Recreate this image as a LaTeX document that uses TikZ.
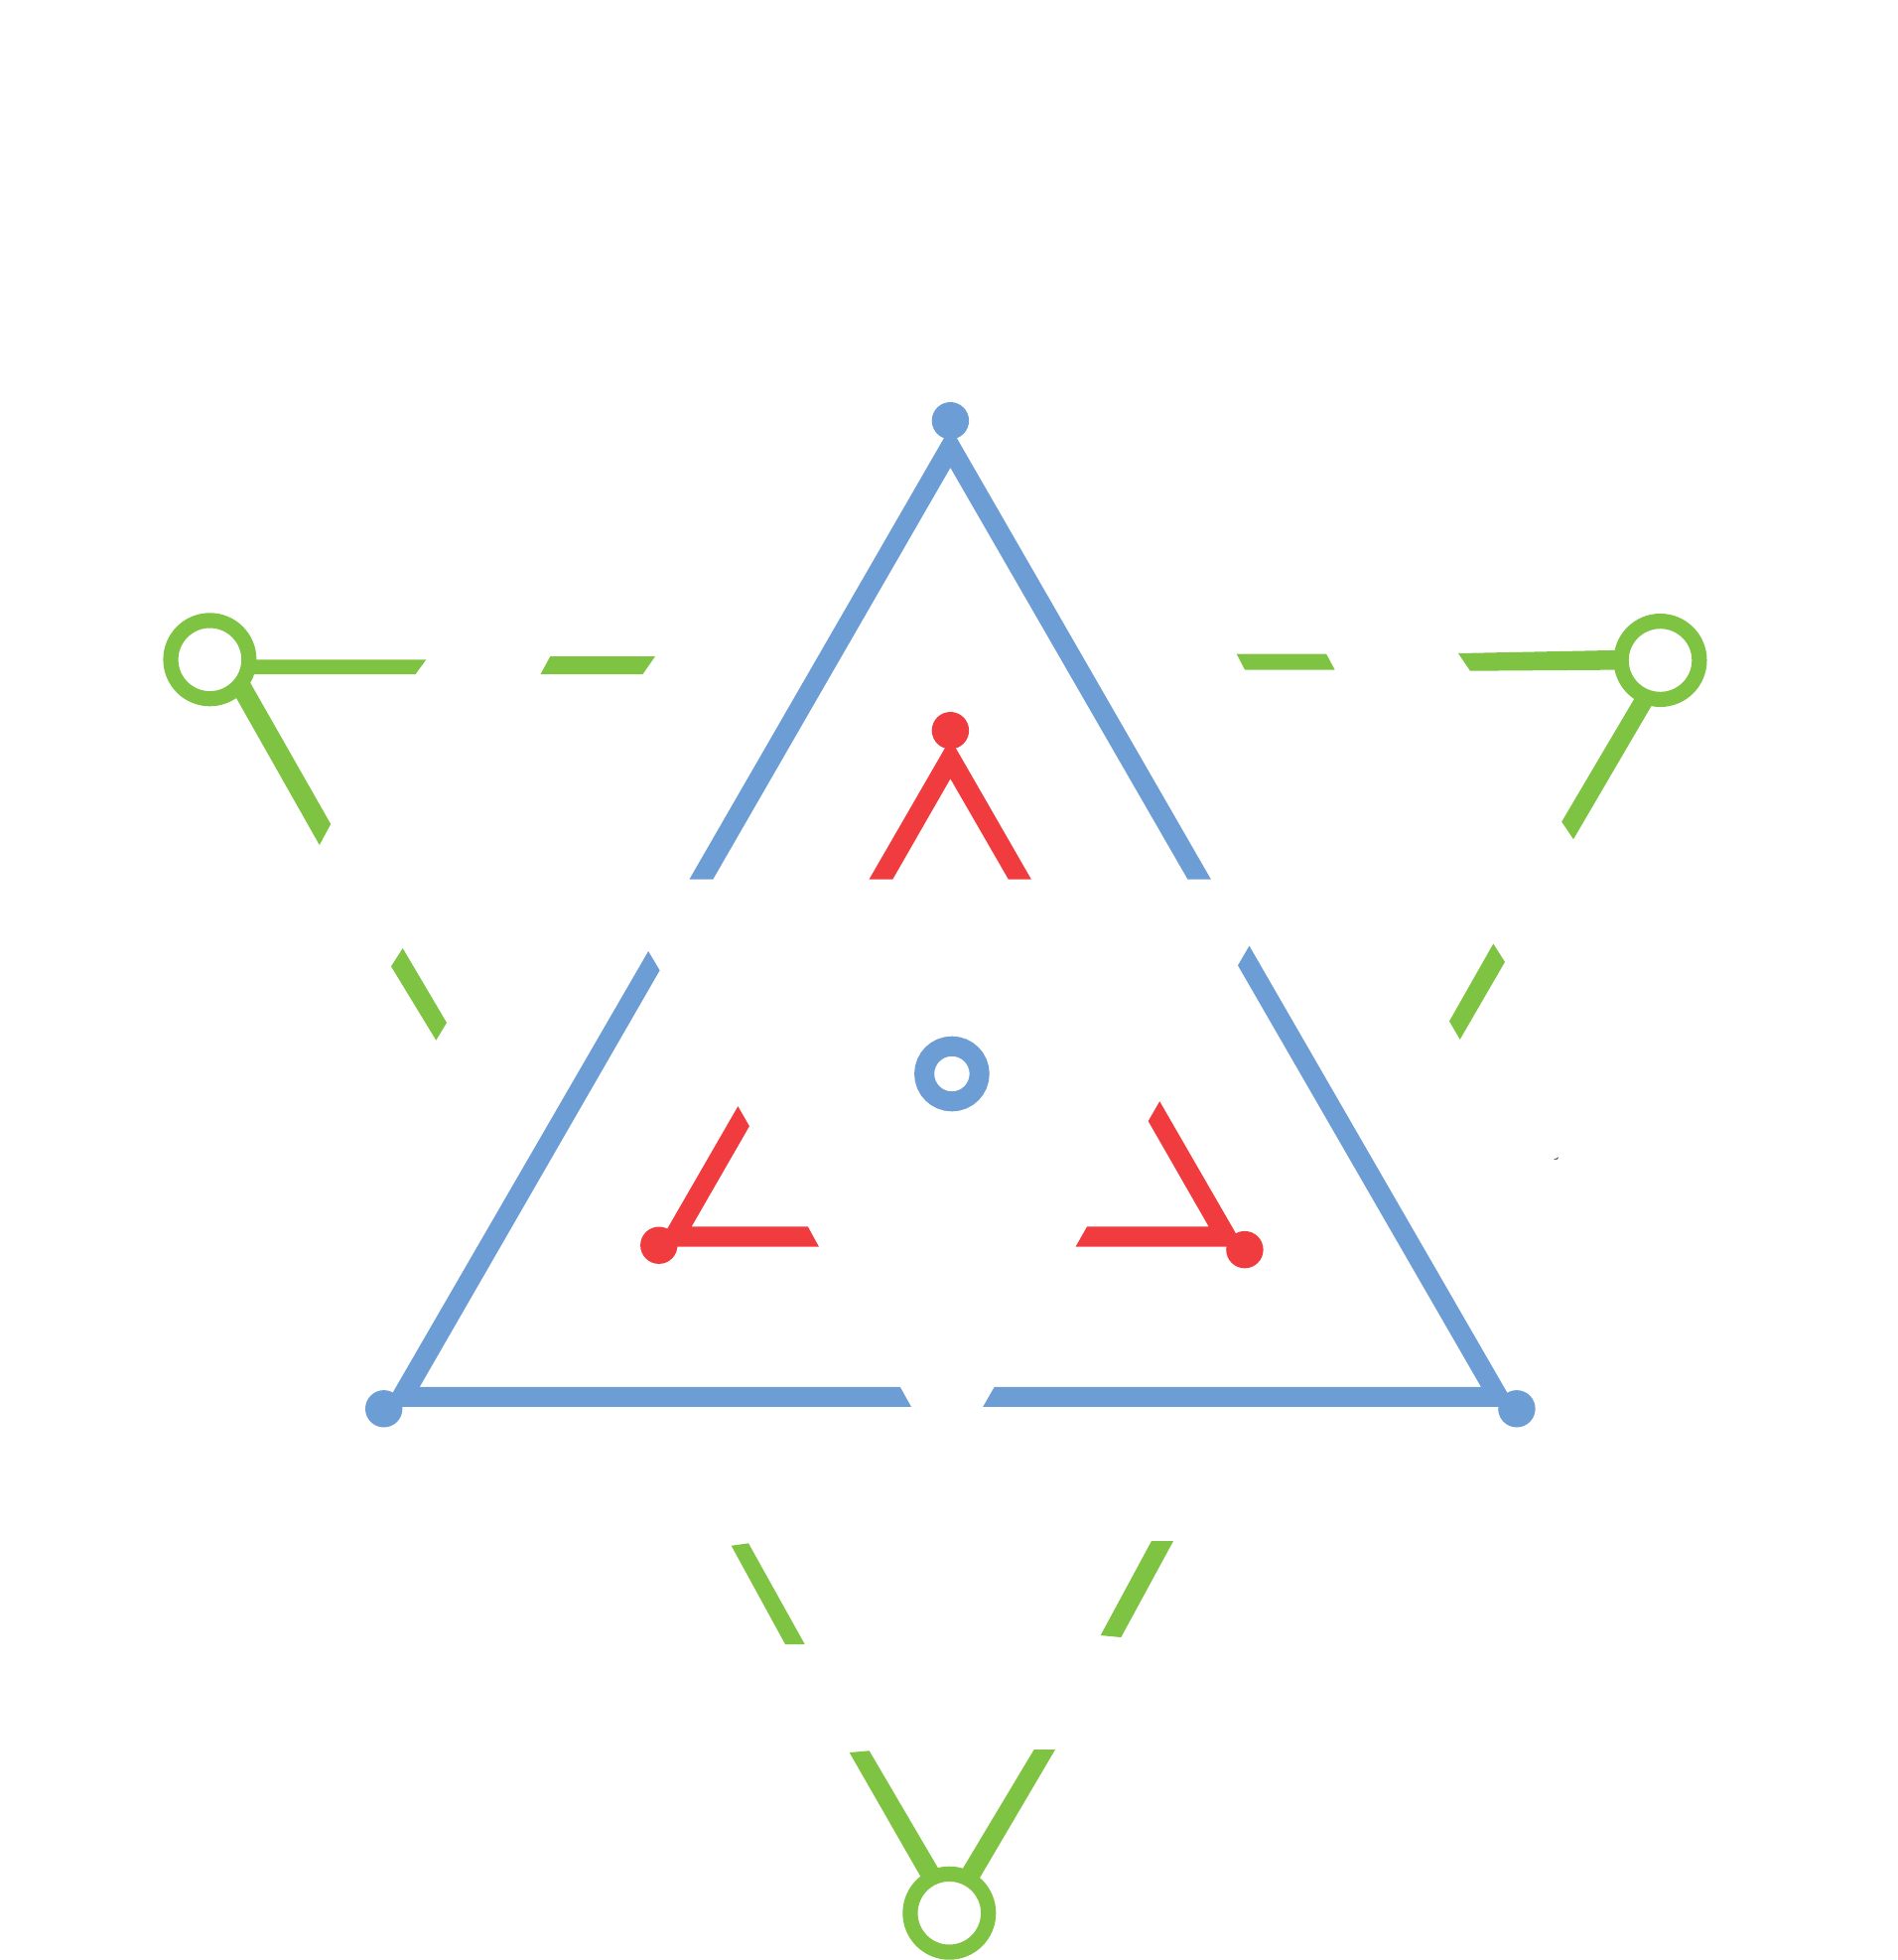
\documentclass[tikz,border=0pt]{standalone}
\definecolor{triblue}{RGB}{108,157,212}
\definecolor{trired}{RGB}{240,59,63}
\definecolor{trigreen}{RGB}{127,195,67}
\tikzset{
    dotblue/.style={fill=triblue},
    dotred/.style={fill=trired},
    bargreen/.style={fill=trigreen},
    ringgreen/.style={draw=trigreen,fill=white,line width=0.304cm}
}
\begin{document}
\begin{tikzpicture}[x=0.02cm,y=-0.02cm]
    \useasboundingbox (0,0) rectangle (1912,1974);

    % Blue triangle
    \fill[dotblue] (694.4,885.7) -- (957.4,430) -- (1219.9,885.7) -- (1196.5,885.7) -- (957.4,471) -- (718.2,885.7) -- cycle;
    \fill[dotblue] (653.1,958) -- (387.4,1416.8) -- (917.9,1416.8) -- (906.8,1396.9) -- (422.7,1396.9) -- (664.6,977.3) -- cycle;
    \fill[dotblue] (1258.5,952.6) -- (1526.5,1416.8) -- (990.2,1416.8) -- (1001.7,1396.9) -- (1492,1396.9) -- (1247,972.3) -- cycle;
    \fill[dotblue] (957.4,423.7) circle (18.7);
    \fill[dotblue] (386.7,1418.8) circle (18.7);
    \fill[dotblue] (1527.9,1418.8) circle (18.7);
    \draw[draw=triblue,fill=white,line width=0.4cm] (958.9,1081.5) circle (27.8);

    % Red corners
    \fill[dotred] (875.5,885.7) -- (957.4,744) -- (1038.9,885.7) -- (1015.9,885.7) -- (957.4,784.3) -- (899.2,885.7) -- cycle;
    \fill[dotred] (743.4,1114.2) -- (661.8,1255.6) -- (824.9,1255.6) -- (813.8,1235.3) -- (696.7,1235.3) -- (754.9,1134.2) -- cycle;
    \fill[dotred] (1168.2,1109.2) -- (1252.7,1255.6) -- (1083.6,1255.6) -- (1095.1,1235.3) -- (1217.6,1235.3) -- (1156.7,1129.1) -- cycle;
    \fill[dotred] (957.4,735.7) circle (18.7);
    \fill[dotred] (663.8,1254.2) circle (18.7);
    \fill[dotred] (1253.9,1258.6) circle (18.7);

    % Green dashes, left side
    \fill[bargreen] (211.4,664.3) -- (429.3,664.3) -- (418.6,679) -- (211.4,679) -- cycle;
    \fill[bargreen] (554.3,661) -- (660,661) -- (647.5,679) -- (544.6,679) -- cycle;
    \fill[bargreen] (225,680) -- (252.5,688.3) -- (333.2,830) -- (321.8,851) -- (238.2,703.3) -- cycle;
    \fill[bargreen] (405.7,955) -- (450,1030) -- (439.3,1047.7) -- (394,973.3) -- cycle;

    % Green dashes, right side
    \fill[bargreen] (1245.7,658.5) -- (1336,658.5) -- (1344.6,674.5) -- (1254,674.5) -- cycle;
    \fill[bargreen] (1469,658) -- (1672.5,654) -- (1672.5,674.3) -- (1481,675.7) -- cycle;
    \fill[bargreen] (1660,690) -- (1663.6,710.9) -- (1585,845.2) -- (1573.2,827.6) -- (1646.4,703.6) -- cycle;
    \fill[bargreen] (1504.3,950.5) -- (1516,968.8) -- (1470.7,1046.9) -- (1460,1028.5) -- cycle;

    % Green dashes, bottom
    \fill[bargreen] (736.7,1556.7) -- (754,1554.3) -- (810.7,1656) -- (791,1656) -- cycle;
    \fill[bargreen] (1160,1552) -- (1182,1552) -- (1129.3,1649) -- (1108.7,1647) -- cycle;
    \fill[bargreen] (855.7,1765) -- (875.7,1763.3) -- (950,1890) -- (932,1898) -- cycle;
    \fill[bargreen] (1041.7,1762) -- (1063,1762) -- (983,1898) -- (965,1890) -- cycle;

    % Green rings
    \draw[ringgreen] (211.4,664.3) circle (39.4);
    \draw[ringgreen] (1672.5,665) circle (39.4);
    \draw[ringgreen] (956.3,1926.7) circle (39.4);

    % Speck
    \fill[black!70] (1565,1168) -- (1570,1165.3) -- (1569,1167.5) -- cycle;
\end{tikzpicture}
\end{document}
